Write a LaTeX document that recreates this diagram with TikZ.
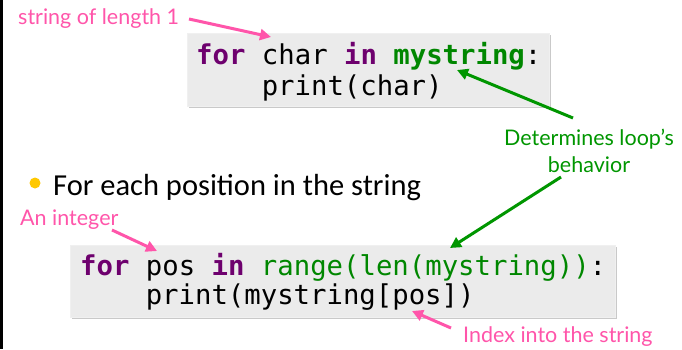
\documentclass[tikz,border=0pt]{standalone}
\usepackage{fontspec}
\setmainfont{Carlito}
\newfontfamily\codefont{DejaVu Sans Mono}
\newfontfamily\labfont{Lato}
\usetikzlibrary{arrows.meta,shadows}
\definecolor{pinkc}{RGB}{255,85,170}
\definecolor{greenc}{RGB}{0,150,0}
\definecolor{codegreen}{RGB}{0,135,0}
\definecolor{purplec}{RGB}{110,0,110}
\definecolor{boxgray}{RGB}{235,235,235}
\definecolor{bulletc}{RGB}{255,200,0}
\newcommand{\kwd}[1]{\textcolor{purplec}{\bfseries #1}}
\newcommand{\grn}[1]{\textcolor{codegreen}{#1}}
\newcommand{\grb}[1]{\textcolor{codegreen}{\bfseries #1}}
\tikzset{
  codebox/.style={fill=boxgray, draw=black!6, line width=0.8pt,
    drop shadow={shadow xshift=1.5pt, shadow yshift=-2pt, fill=black!35, opacity=0.6}},
  codetext/.style={anchor=base west, inner sep=0pt, font=\codefont\fontsize{27.3}{30}\selectfont},
  pinklab/.style={text=pinkc, inner sep=0pt, font=\labfont\fontsize{21.5}{24}\selectfont},
  greenlab/.style={text=greenc, inner sep=0pt, align=center, font=\labfont\fontsize{21.5}{27}\selectfont},
  pinkarrow/.style={draw=pinkc, line width=3pt, -{Triangle[length=11pt,width=11pt]}},
  greenarrow/.style={draw=greenc, line width=3pt, -{Triangle[length=11pt,width=11pt]}},
}
\begin{document}
\begin{tikzpicture}[x=1pt,y=-1pt]
\useasboundingbox (0,0) rectangle (682,349);
\fill[white] (0,0) rectangle (682,349);
\draw[line width=2.5pt] (1.25,0) -- (1.25,349);
% box 1
\path[codebox] (187,33) rectangle (549,106);
\node[codetext] (c1a) at (196,64) {\kwd{for} char \kwd{in} \grb{mystring}:};
\node[codetext] (c1b) at (261.6,95) {print(char)};
% box 2
\path[codebox] (70,245) rectangle (615,317);
\node[codetext] (c2a) at (80,275) {\kwd{for} pos \kwd{in} \grn{range(len(mystring))}:};
\node[codetext] (c2b) at (145.6,304) {print(mystring[pos])};
% labels
\node[pinklab, anchor=west] (lab1) at (18,19) {string of length 1};
\node[pinklab, anchor=west] (lab2) at (20,220) {An integer};
\node[pinklab, anchor=west] (lab3) at (463,337) {Index into the string};
\node[greenlab] (lab4) at (589,151) {Determines loop’s\\behavior};
% bullet
\fill[bulletc] (35,183) circle (5.5);
\node[anchor=base west, inner sep=0pt, font=\fontsize{30.5}{34}\selectfont] (bul) at (53,195) {For each position in the string};
% arrows
\coordinate (s1) at (189,19);
\coordinate (t1) at (271,37);
\draw[pinkarrow] (s1) -- (t1);
\coordinate (s2) at (112,230);
\coordinate (t2) at (157,251);
\draw[pinkarrow] (s2) -- (t2);
\coordinate (s3) at (451,328);
\coordinate (t3) at (412,311);
\draw[pinkarrow] (s3) -- (t3);
\coordinate (s4) at (573,118);
\coordinate (t4) at (457,70);
\draw[greenarrow] (s4) -- (t4);
\coordinate (s5) at (561,177);
\coordinate (t5) at (450,248);
\draw[greenarrow] (s5) -- (t5);
\end{tikzpicture}
\end{document}
